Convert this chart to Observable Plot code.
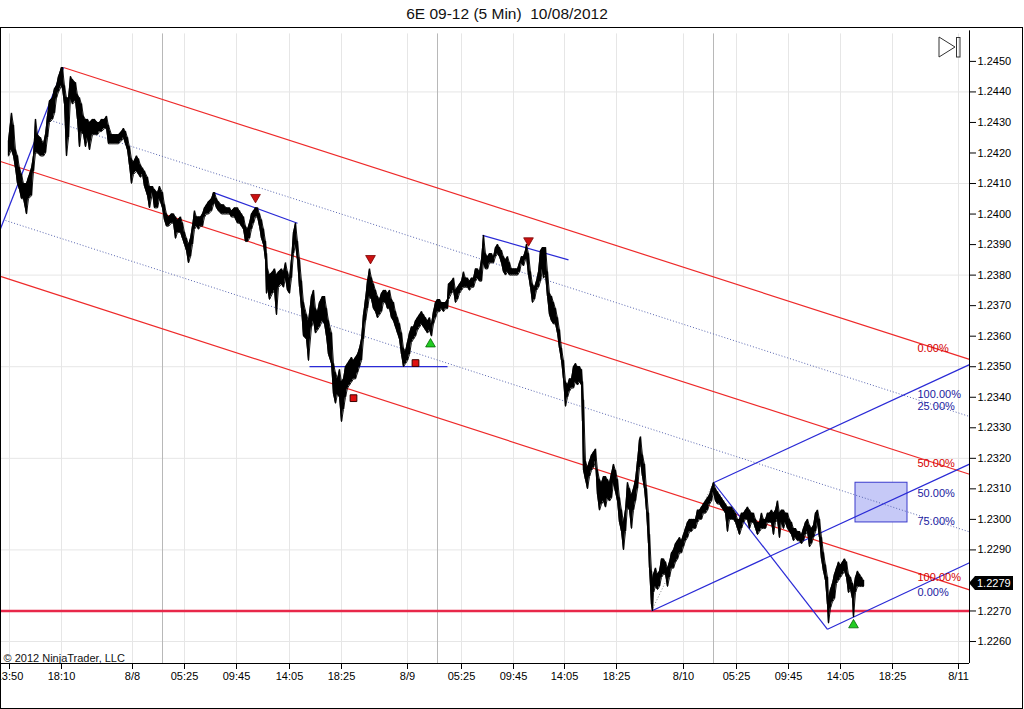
<!DOCTYPE html>
<html><head><meta charset="utf-8">
<script src="https://cdn.jsdelivr.net/npm/d3@7"></script>
<script src="https://cdn.jsdelivr.net/npm/@observablehq/plot@0.6"></script>
<style>
html,body{margin:0;padding:0;background:#fff;}
#wrap{position:relative;width:1024px;height:709px;overflow:hidden;font-family:"Liberation Sans",Arial,sans-serif;}
#title{position:absolute;left:0;top:0;width:1014px;height:27px;line-height:27px;text-align:center;font-size:15.5px;white-space:pre;color:#111;}
#chart{position:absolute;left:0;top:27px;}
#box{position:absolute;left:0;top:27px;width:1023px;height:682px;box-sizing:border-box;border:1px solid #000;pointer-events:none;}
#icon{position:absolute;left:936px;top:34px;}
#pbox{position:absolute;left:969px;width:44px;height:14px;background:#000;color:#fff;font-size:11px;line-height:14px;padding-left:8px;box-sizing:border-box;clip-path:polygon(0 50%,6px 0,100% 0,100% 100%,6px 100%);}
</style></head>
<body>
<div id="wrap">
  <div id="title">6E 09-12 (5 Min)  10/08/2012</div>
  <div id="chart"></div>
  <svg id="icon" width="30" height="28"><polygon points="3,3 19,13 3,23" fill="none" stroke="#333" stroke-width="1"/><rect x="20.5" y="3.5" width="3.5" height="19.5" fill="none" stroke="#333" stroke-width="1"/></svg>
  <div id="box"></div>
</div>
<script>
// ---- data: [bar index, high, low] of the 5-min bars ----
const priceBars = [
[8,1.2424,1.2419],[11,1.2433,1.2421],[13,1.2429,1.2419],[15,1.2421,1.2415],[17,1.2419,1.2410],[19,1.2415,1.2408],
[21,1.2413,1.2405],[23,1.2410,1.2405],[26,1.2410,1.2400],[28,1.2412,1.2405],[31,1.2415,1.2406],[33,1.2419,1.2414],
[35,1.2431,1.2420],[37,1.2426,1.2420],[40,1.2425,1.2419],[43,1.2423,1.2419],[45,1.2426,1.2420],[47,1.2432,1.2425],
[49,1.2437,1.2430],[52,1.2438,1.2431],[54,1.2441,1.2433],[56,1.2442,1.2438],[58,1.2445,1.2440],[61,1.2448,1.2442],
[62,1.2448,1.2441],[64,1.2442,1.2436],[66,1.2438,1.2419],[68,1.2438,1.2425],[70,1.2445,1.2438],[72,1.2444,1.2436],
[75,1.2443,1.2437],[77,1.2439,1.2431],[79,1.2438,1.2422],[81,1.2436,1.2427],[83,1.2432,1.2426],[85,1.2431,1.2422],
[87,1.2431,1.2425],[89,1.2430,1.2421],[92,1.2431,1.2426],[94,1.2431,1.2426],[97,1.2430,1.2426],[99,1.2430,1.2427],
[101,1.2431,1.2427],[104,1.2431,1.2428],[106,1.2432,1.2428],[108,1.2429,1.2423],[111,1.2426,1.2423],[113,1.2426,1.2423],
[116,1.2426,1.2423],[118,1.2426,1.2423],[121,1.2427,1.2424],[123,1.2428,1.2425],[125,1.2427,1.2423],[127,1.2425,1.2421],
[129,1.2422,1.2416],[131,1.2418,1.2410],[133,1.2417,1.2413],[136,1.2419,1.2414],[138,1.2418,1.2413],[140,1.2416,1.2412],
[142,1.2415,1.2413],[144,1.2414,1.2409],[147,1.2412,1.2406],[149,1.2409,1.2402],
[152,1.2409,1.2407],[154,1.2408,1.2402],[157,1.2407,1.2402],[159,1.2409,1.2405],[162,1.2407,1.2402],[164,1.2403,1.2398],
[166,1.2400,1.2396],[168,1.2399,1.2396],[171,1.2400,1.2397],[173,1.2400,1.2397],[175,1.2399,1.2392],[177,1.2398,1.2394],
[180,1.2399,1.2394],[182,1.2397,1.2392],[184,1.2394,1.2390],[186,1.2392,1.2388],[188,1.2390,1.2384],[190,1.2392,1.2386],
[192,1.2396,1.2390],[194,1.2401,1.2395],[196,1.2399,1.2396],[198,1.2399,1.2395],[200,1.2399,1.2396],[202,1.2400,1.2396],
[204,1.2402,1.2399],[206,1.2403,1.2400],[208,1.2404,1.2400],[211,1.2405,1.2401],[213,1.2407,1.2403],[214,1.2407,1.2404],
[216,1.2405,1.2402],[218,1.2404,1.2401],[221,1.2403,1.2400],[223,1.2403,1.2400],[226,1.2402,1.2400],[229,1.2402,1.2400],
[231,1.2401,1.2399],[234,1.2402,1.2399],[237,1.2402,1.2397],[239,1.2401,1.2397],[241,1.2400,1.2396],[243,1.2399,1.2395],
[245,1.2396,1.2391],[247,1.2395,1.2391],[249,1.2397,1.2392],[251,1.2400,1.2395],[253,1.2401,1.2397],[255,1.2402,1.2399],
[257,1.2402,1.2399],[259,1.2400,1.2396],[261,1.2398,1.2392],[263,1.2395,1.2390],[265,1.2391,1.2385],[266,1.2387,1.2374],
[267,1.2382,1.2376],[269,1.2380,1.2372],[272,1.2381,1.2374],[274,1.2382,1.2375],[276,1.2380,1.2367],[278,1.2381,1.2376],
[281,1.2382,1.2377],[283,1.2381,1.2376],[285,1.2384,1.2379],[287,1.2381,1.2375],[289,1.2379,1.2374],[291,1.2385,1.2379],
[293,1.2394,1.2387],[295,1.2397,1.2390],[297,1.2391,1.2385],[299,1.2385,1.2376],
[301,1.2378,1.2369],[303,1.2371,1.2360],[306,1.2367,1.2359],[308,1.2365,1.2352],[311,1.2373,1.2363],[313,1.2375,1.2365],
[315,1.2369,1.2361],[317,1.2368,1.2362],[319,1.2371,1.2363],[322,1.2373,1.2365],[324,1.2373,1.2364],[326,1.2369,1.2360],
[328,1.2365,1.2354],[331,1.2361,1.2351],[333,1.2351,1.2341],[335,1.2348,1.2338],[337,1.2346,1.2341],[339,1.2349,1.2340],
[341,1.2345,1.2332],[343,1.2346,1.2336],[345,1.2350,1.2340],[347,1.2351,1.2343],[349,1.2352,1.2344],[351,1.2353,1.2345],
[353,1.2352,1.2346],[355,1.2353,1.2346],[357,1.2354,1.2348],[359,1.2356,1.2350],[361,1.2359,1.2352],[363,1.2367,1.2359],
[365,1.2372,1.2365],[367,1.2378,1.2369],[369,1.2382,1.2373],[371,1.2379,1.2372],[373,1.2377,1.2369],[375,1.2375,1.2368],
[377,1.2373,1.2366],[379,1.2372,1.2367],[381,1.2374,1.2368],[383,1.2375,1.2371],[385,1.2375,1.2371],[387,1.2374,1.2369],
[389,1.2375,1.2369],[391,1.2372,1.2366],[393,1.2371,1.2365],[395,1.2368,1.2363],[397,1.2366,1.2361],[399,1.2364,1.2359],
[401,1.2361,1.2354],[403,1.2356,1.2350],[405,1.2355,1.2351],[407,1.2358,1.2352],[409,1.2361,1.2354],[411,1.2363,1.2358],
[413,1.2363,1.2359],[415,1.2365,1.2360],[417,1.2366,1.2362],[419,1.2367,1.2363],[421,1.2368,1.2364],[423,1.2367,1.2363],
[425,1.2366,1.2362],[427,1.2365,1.2361],[429,1.2366,1.2362],[431,1.2364,1.2360],[433,1.2368,1.2364],[435,1.2371,1.2366],
[437,1.2372,1.2368],[439,1.2372,1.2368],[441,1.2371,1.2369],[443,1.2371,1.2368],[445,1.2371,1.2369],[447,1.2372,1.2369],
[448,1.2377,1.2372],[451,1.2378,1.2374],[453,1.2379,1.2375],[455,1.2375,1.2371],[457,1.2376,1.2372],[459,1.2377,1.2374],
[461,1.2378,1.2375],[463,1.2381,1.2376],[465,1.2379,1.2376],[467,1.2379,1.2376],[469,1.2378,1.2375],[471,1.2379,1.2376],
[473,1.2379,1.2376],[475,1.2382,1.2378],[477,1.2382,1.2379],[479,1.2381,1.2378],[481,1.2385,1.2378],[483,1.2393,1.2384],
[485,1.2387,1.2382],[487,1.2386,1.2382],[489,1.2387,1.2384],[491,1.2387,1.2384],[493,1.2386,1.2384],[495,1.2389,1.2386],
[497,1.2390,1.2387],[499,1.2389,1.2386],[501,1.2388,1.2384],[503,1.2386,1.2381],[505,1.2385,1.2380],[507,1.2386,1.2381],
[509,1.2384,1.2380],[511,1.2382,1.2380],[513,1.2382,1.2380],[515,1.2382,1.2380],[517,1.2382,1.2380],[519,1.2384,1.2381],
[521,1.2386,1.2384],[523,1.2386,1.2383],[525,1.2388,1.2385],[526,1.2390,1.2386],[528,1.2387,1.2380],[530,1.2381,1.2376],
[532,1.2377,1.2371],[534,1.2376,1.2372],[536,1.2378,1.2375],[538,1.2381,1.2376],[540,1.2388,1.2378],[542,1.2389,1.2382],
[543,1.2389,1.2379],[545,1.2389,1.2380],[547,1.2381,1.2373],[549,1.2374,1.2367],[551,1.2373,1.2365],[553,1.2371,1.2364],
[555,1.2369,1.2364],[557,1.2366,1.2361],[559,1.2362,1.2356],[561,1.2356,1.2352],[563,1.2352,1.2346],[565,1.2345,1.2337],
[567,1.2344,1.2340],[569,1.2346,1.2342],[571,1.2346,1.2343],[573,1.2350,1.2343],[575,1.2351,1.2345],[577,1.2350,1.2344],
[579,1.2350,1.2345],[581,1.2349,1.2344],[582,1.2345,1.2332],[583,1.2339,1.2316],
[585,1.2319,1.2313],[587,1.2317,1.2310],[589,1.2319,1.2314],[591,1.2321,1.2316],[593,1.2322,1.2317],[595,1.2323,1.2319],
[597,1.2316,1.2308],[599,1.2313,1.2303],[601,1.2312,1.2305],[603,1.2314,1.2306],[605,1.2314,1.2304],[607,1.2313,1.2307],
[609,1.2312,1.2306],[611,1.2315,1.2307],[613,1.2318,1.2312],[615,1.2316,1.2309],[617,1.2313,1.2306],[619,1.2307,1.2299],
[621,1.2303,1.2296],[623,1.2299,1.2290],[625,1.2303,1.2296],[627,1.2312,1.2304],[629,1.2310,1.2303],[631,1.2308,1.2297],
[633,1.2310,1.2303],[635,1.2313,1.2306],[637,1.2319,1.2310],[639,1.2326,1.2317],[640,1.2327,1.2319],[642,1.2321,1.2314],
[644,1.2318,1.2310],[646,1.2310,1.2303],[648,1.2302,1.2292],[649,1.2295,1.2284],[651,1.2283,1.2272],[652,1.2280,1.2270],
[653,1.2282,1.2276],[655,1.2284,1.2278],[657,1.2282,1.2277],[659,1.2283,1.2278],[661,1.2287,1.2281],[663,1.2287,1.2282],
[665,1.2286,1.2282],[667,1.2284,1.2278],[669,1.2286,1.2281],[671,1.2289,1.2284],[673,1.2290,1.2284],[675,1.2292,1.2286],
[677,1.2293,1.2287],[679,1.2294,1.2289],[681,1.2293,1.2289],[683,1.2295,1.2291],[685,1.2297,1.2293],[687,1.2299,1.2294],
[689,1.2300,1.2296],[691,1.2300,1.2296],[693,1.2300,1.2297],[695,1.2300,1.2297],[697,1.2303,1.2299],[699,1.2303,1.2300],
[701,1.2304,1.2300],[703,1.2305,1.2302],[705,1.2306,1.2302],[707,1.2307,1.2303],[709,1.2308,1.2305],[711,1.2310,1.2306],
[713,1.2312,1.2309],
[715,1.2310,1.2306],[717,1.2309,1.2305],[719,1.2308,1.2305],[721,1.2307,1.2304],[723,1.2306,1.2303],[725,1.2305,1.2302],
[727,1.2304,1.2296],[729,1.2304,1.2300],[731,1.2304,1.2300],[733,1.2303,1.2300],[735,1.2302,1.2299],[737,1.2300,1.2297],
[739,1.2300,1.2295],[741,1.2302,1.2297],[743,1.2302,1.2299],[745,1.2303,1.2300],[747,1.2304,1.2300],[749,1.2303,1.2297],
[751,1.2302,1.2299],[753,1.2302,1.2299],[755,1.2300,1.2297],[757,1.2299,1.2295],[759,1.2299,1.2296],[761,1.2302,1.2297],
[763,1.2300,1.2297],[765,1.2300,1.2297],[767,1.2302,1.2299],[769,1.2302,1.2299],[771,1.2303,1.2299],[773,1.2302,1.2295],
[775,1.2303,1.2299],[777,1.2306,1.2300],[779,1.2302,1.2294],[781,1.2303,1.2299],[783,1.2303,1.2297],[785,1.2302,1.2299],
[787,1.2302,1.2297],[789,1.2300,1.2296],[791,1.2299,1.2295],[793,1.2297,1.2293],[795,1.2297,1.2294],[797,1.2296,1.2293],
[799,1.2296,1.2293],[801,1.2295,1.2292],[803,1.2297,1.2293],[805,1.2299,1.2295],[807,1.2300,1.2296],[809,1.2298,1.2291],
[811,1.2297,1.2292],[813,1.2298,1.2294],[815,1.2302,1.2296],[817,1.2303,1.2299],[819,1.2300,1.2294],[821,1.2294,1.2287],
[823,1.2289,1.2283],[825,1.2285,1.2280],[827,1.2281,1.2272],[828,1.2274,1.2266],[830,1.2277,1.2271],[832,1.2279,1.2273],
[834,1.2282,1.2274],[836,1.2284,1.2279],[838,1.2286,1.2280],[840,1.2285,1.2281],[842,1.2286,1.2282],[844,1.2287,1.2283],
[846,1.2286,1.2281],[848,1.2282,1.2276],[850,1.2281,1.2277],[852,1.2279,1.2274],[853,1.2277,1.2268],[855,1.2281,1.2276],
[857,1.2283,1.2278],[859,1.2282,1.2278],[861,1.2281,1.2278],[863,1.2280,1.2278]
];
const lastPrice = 1.2279;

// axes (the 1.2280 label sits under the last-price marker, as in the original)
const xTickBars   = [9, 61, 132, 184, 236, 289, 341, 407, 461, 513, 564, 616, 683, 736, 788, 840, 892, 958];
const xTickLabels = ["13:50","18:10","8/8","05:25","09:45","14:05","18:25","8/9","05:25","09:45","14:05","18:25","8/10","05:25","09:45","14:05","18:25","8/11"];
const yTicks = [1.2260,1.2270,1.2290,1.2300,1.2310,1.2320,1.2330,1.2340,1.2350,1.2360,1.2370,1.2380,1.2390,1.2400,1.2410,1.2420,1.2430,1.2440,1.2450];
const yGrid  = [1.2260,1.2290,1.2320,1.2350,1.2380,1.2410,1.2440];
const sessionBreaks = [162, 437, 713];

// drawing objects (bar, price end points)
const redChannel = [
  {x1:63, y1:1.24480, x2:969, y2:1.23524},
  {x1:0,  y1:1.24172, x2:969, y2:1.23148},
  {x1:0,  y1:1.23796, x2:969, y2:1.22769}
];
const channelDotted = [
  {x1:50, y1:1.24307, x2:969, y2:1.23337},
  {x1:5,  y1:1.23979, x2:969, y2:1.22959}
];
const blueLines = [
  {x1:0,   y1:1.23952, x2:63,  y2:1.24480},
  {x1:213, y1:1.24070, x2:297, y2:1.23970},
  {x1:309, y1:1.23500, x2:447, y2:1.23500},
  {x1:482, y1:1.23930, x2:568, y2:1.23850},
  {x1:651, y1:1.22700, x2:969, y2:1.23181},
  {x1:713, y1:1.23120, x2:969, y2:1.23507},
  {x1:827, y1:1.22640, x2:969, y2:1.22858},
  {x1:713, y1:1.23120, x2:827, y2:1.22640}
];
const greyDotted = [{x1:651, y1:1.22700, x2:713, y2:1.23120}];
const supportLevel = [1.2270];
const zoneBox = [{x1:855, x2:907, y1:1.2299, y2:1.2312}];
const redDown = [[255,1.24055],[370,1.23855],[528,1.23913]];
const greenUp = [[430,1.23574],[853,1.22654]];
const redSquares = [[353,1.23397],[415,1.23512]];
const labelBar = 917;
const redLabels  = [{t:"0.00%", y:1.23559},{t:"50.00%", y:1.23183},{t:"100.00%", y:1.22809}];
const blueLabels = [{t:"100.00%", y:1.23408},{t:"25.00%", y:1.23370},{t:"50.00%", y:1.23085},{t:"75.00%", y:1.22994},{t:"0.00%", y:1.22760}];
const copyright = "© 2012 NinjaTrader, LLC";

const yMin = 1.22528, yMax = 1.24611;
const labelMap = new Map(xTickBars.map((b, i) => [b, xTickLabels[i]]));

const chart = Plot.plot({
  width: 1024, height: 682,
  marginTop: 0, marginBottom: 46, marginLeft: 0, marginRight: 55,
  x: {domain: [0, 969]},
  y: {domain: [yMin, yMax]},
  style: {fontFamily: "'Liberation Sans', Arial, sans-serif", fontSize: "11px", background: "transparent", overflow: "visible", color: "#000"},
  marks: [
    Plot.ruleY(yGrid, {stroke: "#e6e6e6", strokeWidth: 1}),
    Plot.ruleX(xTickBars, {y1: yMin, y2: 1.2459, stroke: "#e6e6e6", strokeWidth: 1}),
    Plot.ruleX(sessionBreaks, {y1: yMin, y2: 1.2459, stroke: "#b8b8b8", strokeWidth: 1}),
    Plot.rect(zoneBox, {x1: "x1", x2: "x2", y1: "y1", y2: "y2", fill: "#c6c9f7", stroke: "#3a3acc", strokeWidth: 1}),
    Plot.link(channelDotted, {x1: "x1", y1: "y1", x2: "x2", y2: "y2", stroke: "#5865b0", strokeWidth: 1, strokeDasharray: "1,2"}),
    Plot.link(redChannel, {x1: "x1", y1: "y1", x2: "x2", y2: "y2", stroke: "#ee2a2a", strokeWidth: 1.2}),
    Plot.ruleY(supportLevel, {stroke: "#e8284a", strokeWidth: 2.6}),
    Plot.link(greyDotted, {x1: "x1", y1: "y1", x2: "x2", y2: "y2", stroke: "#888", strokeWidth: 1, strokeDasharray: "1,2"}),
    Plot.link(blueLines, {x1: "x1", y1: "y1", x2: "x2", y2: "y2", stroke: "#2a2ad6", strokeWidth: 1.2}),
    Plot.areaY(priceBars, {x: d => d[0], y1: d => d[2], y2: d => d[1], fill: "#000", curve: "linear"}),
    Plot.line(priceBars, {x: d => d[0], y: d => d[1], stroke: "#000", strokeWidth: 0.9}),
    Plot.line(priceBars, {x: d => d[0], y: d => d[2], stroke: "#000", strokeWidth: 0.9}),
    Plot.ruleX(priceBars, {x: d => d[0], y1: d => d[2], y2: d => d[1], stroke: "#000", strokeWidth: 1.4}),
    Plot.dot(redDown, {x: d => d[0], y: d => d[1], symbol: "triangle", rotate: 180, r: 3.6, fill: "#cc1111", stroke: "#7a0000", strokeWidth: 0.8}),
    Plot.dot(greenUp, {x: d => d[0], y: d => d[1], symbol: "triangle", r: 3.6, fill: "#22cc22", stroke: "#006600", strokeWidth: 0.8}),
    Plot.dot(redSquares, {x: d => d[0], y: d => d[1], symbol: "square", r: 3.8, fill: "#e01010", stroke: "#3a0000", strokeWidth: 1}),
    Plot.text(redLabels, {x: () => labelBar, y: "y", text: "t", textAnchor: "start", fill: "#d40000", fontSize: 11}),
    Plot.text(blueLabels, {x: () => labelBar, y: "y", text: "t", textAnchor: "start", fill: "#1a1aa0", fontSize: 11}),
    Plot.text([copyright], {frameAnchor: "bottom-left", dx: 3, dy: -2, textAnchor: "start", lineAnchor: "bottom", fontSize: 11, fill: "#111"}),
    Plot.ruleX([969], {y1: yMin, y2: 1.2460, stroke: "#000", strokeWidth: 1}),
    Plot.ruleY([yMin], {stroke: "#000", strokeWidth: 1}),
    Plot.axisY(yTicks, {anchor: "right", tickFormat: d => d.toFixed(4), tickSize: 6, tickPadding: 2, fontSize: 11, label: null}),
    Plot.axisX(xTickBars, {anchor: "bottom", tickFormat: d => labelMap.get(d), tickSize: 6, tickPadding: 3, fontSize: 11, label: null})
  ]
});
document.getElementById("chart").appendChild(chart);

// last price marker on the price axis
const py = chart.scale("y").apply(lastPrice);
const pb = document.createElement("div");
pb.id = "pbox";
pb.style.top = (27 + py - 7) + "px";
pb.textContent = lastPrice.toFixed(4);
document.getElementById("wrap").appendChild(pb);
</script>
</body></html>
